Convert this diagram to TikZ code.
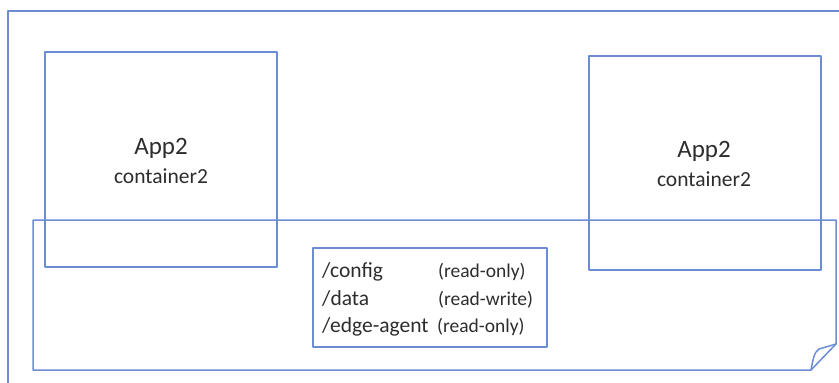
\documentclass[tikz,border=0pt]{standalone}
\usepackage{fontspec}
\setmainfont{Carlito}
\definecolor{edge}{RGB}{108,140,212}
\definecolor{ink}{RGB}{45,45,45}
\begin{document}
\begin{tikzpicture}[x=1pt,y=-1pt,
  line/.style={draw=edge,line width=1.5pt,line join=round},
  appbox/.style={line,minimum width=232pt,minimum height=215pt,inner sep=0pt},
  lbl/.style={text=ink,inner sep=0pt,anchor=base},
  path/.style={text=ink,inner sep=0pt,anchor=base west,font=\fontsize{21.5}{24}\selectfont},
  mode/.style={text=ink,inner sep=0pt,anchor=base west,font=\fontsize{19.5}{22}\selectfont}]
\useasboundingbox (0,0) rectangle (839,383);
\clip (0,0) rectangle (839,383);
% outer host frame, running off the right and bottom edges
\draw[line] (8,400) -- (8,11) -- (860,11);
% module containers
\node[appbox] (appL) at (161,159.5) {};
\node[appbox,minimum height=214pt] (appR) at (705,163) {};
\node[lbl,font=\fontsize{25}{28}\selectfont] (appLt) at (161,154) {App2};
\node[lbl,font=\fontsize{21.5}{24}\selectfont] (appLc) at (161,183) {container2};
\node[lbl,font=\fontsize{25}{28}\selectfont] (appRt) at (704,157) {App2};
\node[lbl,font=\fontsize{21.5}{24}\selectfont] (appRc) at (704,186) {container2};
% shared volume with a folded corner
\draw[line] (33,220) -- (836,220) -- (836,344) -- (811,370) -- (33,370) -- cycle;
\draw[line] (811,370) .. controls (813,360) and (814,352) .. (819,349) -- (836,344);
% mount points
\node[line,minimum width=234pt,minimum height=99pt,inner sep=0pt] (mounts) at (430,297.5) {};
\node[path] (p1) at (322,277) {/config};
\node[mode] (m1) at (438,277) {(read-only)};
\node[path] (p2) at (322,305) {/data};
\node[mode] (m2) at (438,305) {(read-write)};
\node[path] (p3) at (322,332) {/edge-agent};
\node[mode] (m3) at (437,332) {(read-only)};
\end{tikzpicture}
\end{document}
